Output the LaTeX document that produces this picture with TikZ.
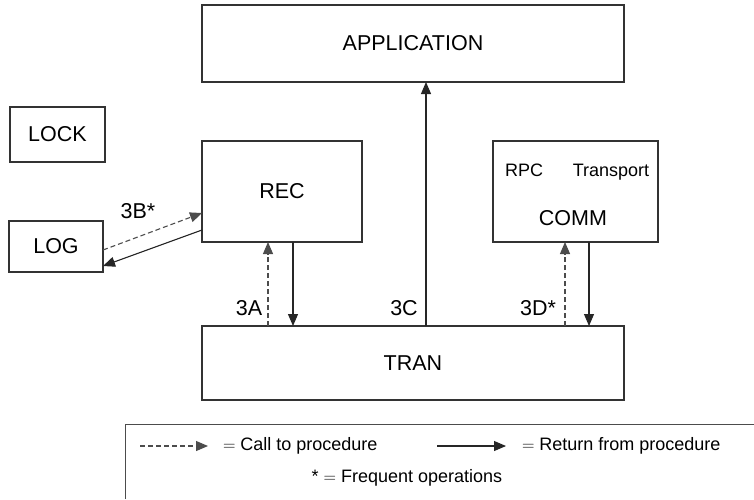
\documentclass[tikz,border=0pt]{standalone}
\usepackage{fontspec}
\setmainfont{Liberation Sans}
\usetikzlibrary{arrows.meta}

\begin{document}
\begin{tikzpicture}[x=1pt,y=-1pt,
  line width=1.1pt,
  every node/.style={inner sep=0pt, outer sep=0pt},
  box/.style={draw=black!80, fill=white, font=\fontsize{21.5}{25}\selectfont},
  lbl/.style={font=\fontsize{21.5}{25}\selectfont},
  small/.style={font=\fontsize{18}{21}\selectfont},
  tip/.style={-{Triangle[length=12pt,width=10pt]}},
  ret/.style={tip, draw=black!85},
  call/.style={tip, draw=black!70, dash pattern=on 5pt off 3pt}]

\useasboundingbox (0,0) rectangle (754,499);

% modules
\node[box, minimum width=422pt, minimum height=77pt] (app)  at (413,43.5) {APPLICATION};
\node[box, minimum width=95pt,  minimum height=55pt] (lock) at (57.5,134.5) {LOCK};
\node[box, minimum width=160pt, minimum height=101pt] (rec) at (282,191.5) {REC};
\node[box, minimum width=94pt,  minimum height=51pt] (log)  at (56,246.5) {LOG};
\node[box, minimum width=165pt, minimum height=101pt] (comm) at (575.5,191.5) {};
\node[box, minimum width=422pt, minimum height=74pt] (tran) at (413,363) {TRAN};

% contents of COMM
\node[small, anchor=base] (rpc)   at (524,176) {RPC};
\node[small, anchor=base] (trans) at (611,176) {Transport};
\node[lbl]   (commt) at (573,218) {COMM};

% connector end points
\coordinate (ra) at ([xshift=-14pt]rec.south);
\coordinate (rb) at ([xshift=11pt]rec.south);
\coordinate (ca) at ([xshift=-10.5pt]comm.south);
\coordinate (cb) at ([xshift=13.5pt]comm.south);
\coordinate (ac) at ([xshift=13pt]app.south);
\coordinate (lo1) at ([yshift=-3.5pt]log.east);
\coordinate (lo2) at ([yshift=-19.5pt]log.east);
\coordinate (rw1) at ([yshift=-21.5pt]rec.west);
\coordinate (rw2) at ([yshift=-38.5pt]rec.west);

% 3A: TRAN <-> REC
\draw[call] (ra |- tran.north) -- (ra);
\draw[ret]  (rb) -- (rb |- tran.north);
% 3B: REC <-> LOG
\draw[call] (lo1) -- (rw1);
\draw[ret]  (rw2) -- (lo2);
% 3C: TRAN -> APPLICATION
\draw[ret]  (ac |- tran.north) -- (ac);
% 3D: TRAN <-> COMM
\draw[call] (ca |- tran.north) -- (ca);
\draw[ret]  (cb) -- (cb |- tran.north);

% labels
\node[lbl] (l3a) at (249,308) {3A};
\node[lbl] (l3b) at (138,211) {3B*};
\node[lbl] (l3c) at (404,308) {3C};
\node[lbl] (l3d) at (538,308) {3D*};

% key
\coordinate (kc) at (125,424);
\draw[draw=black!70, line width=1pt] (kc |- 0,499) -- (kc) -- (754,424);
\coordinate (k1s) at (140,446);
\coordinate (k1e) at (208,446);
\coordinate (k2s) at (437,446);
\coordinate (k2e) at (506,446);
\draw[call] (k1s) -- (k1e);
\draw[ret]  (k2s) -- (k2e);
\node[small, anchor=west] (kcall) at (223,446) {$=$ Call to procedure};
\node[small, anchor=west] (kret)  at (522,446) {$=$ Return from procedure};
\node[small] (kfreq) at (407,478) {* $=$ Frequent operations};
\end{tikzpicture}
\end{document}
